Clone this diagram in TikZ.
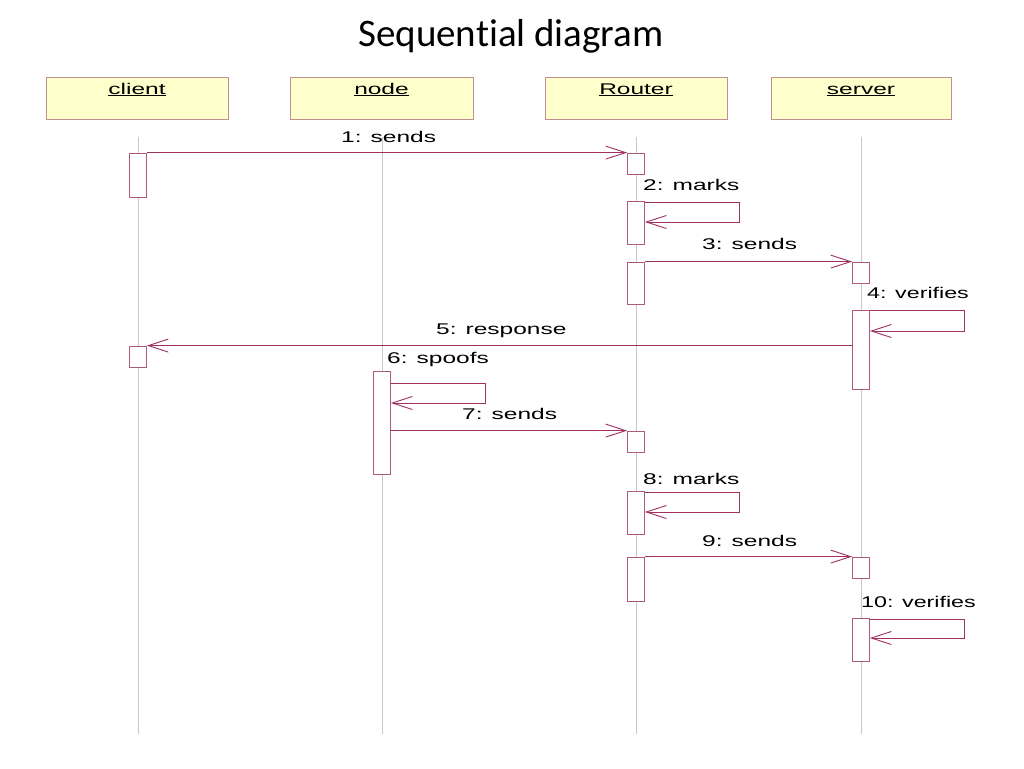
\documentclass[tikz,border=0pt]{standalone}
\usepackage{fontspec}
\setmainfont{Liberation Sans}
\newfontfamily\titlefont[Ligatures={NoCommon}]{Carlito}
\usetikzlibrary{arrows.meta}
\definecolor{hdrfill}{HTML}{FFFFCC}
\definecolor{hdrdraw}{HTML}{C09090}
\definecolor{actdraw}{HTML}{B05A7A}
\definecolor{msgcol}{HTML}{A0305F}
\definecolor{lifecol}{HTML}{C8C8C8}
\newcommand\wtxt[1]{\scalebox{1.58}[1]{#1}}
\tikzset{
  hdr/.style={draw=hdrdraw, fill=hdrfill, line width=0.8pt, minimum width=182pt,
    inner xsep=0pt, inner ysep=3pt, text height=14pt, text depth=22pt,
    font=\fontsize{15.5}{18}\selectfont},
  act/.style={draw=actdraw, fill=white, line width=0.8pt, minimum width=17pt, inner sep=0pt},
  life/.style={draw=lifecol, line width=0.7pt},
  msg/.style={draw=msgcol, line width=0.8pt, -{Straight Barb[length=20pt,width=13pt,line width=0.9pt]}},
  lbl/.style={anchor=base west, inner sep=0pt, font=\fontsize{15.5}{18}\selectfont},
}
\begin{document}
\begin{tikzpicture}[x=1pt, y=-1pt]
\useasboundingbox[fill=white] (0,0) rectangle (1024,768);
% title
\node[anchor=base, inner sep=0pt, font=\titlefont\fontsize{39}{44}\selectfont] (title) at (511,46) {Sequential diagram};
% headers
\node[hdr] (client) at (137,98) {\wtxt{\underline{client}}};
\node[hdr, minimum width=183pt] (node) at (381.5,98) {\wtxt{\underline{node}}};
\node[hdr] (router) at (636,98) {\wtxt{\underline{Router}}};
\node[hdr, minimum width=180pt] (server) at (861,98) {\wtxt{\underline{server}}};
% lifelines
\coordinate (cT) at (138,137); \coordinate (cB) at (138,734);
\coordinate (nT) at (382,137); \coordinate (nB) at (382,734);
\coordinate (rT) at (636,137); \coordinate (rB) at (636,734);
\coordinate (sT) at (861,137); \coordinate (sB) at (861,734);
\draw[life] (cT) -- (cB);
\draw[life] (nT) -- (nB);
\draw[life] (rT) -- (rB);
\draw[life] (sT) -- (sB);
% activations
\node[act, minimum height=44pt] (ca1) at (138,175) {};
\node[act, minimum height=21pt] (ca2) at (138,356.5) {};
\node[act, minimum height=103pt] (na1) at (382,422.5) {};
\node[act, minimum height=21pt] (ra1) at (636,163.5) {};
\node[act, minimum height=43pt] (ra2) at (636,222.5) {};
\node[act, minimum height=42pt] (ra3) at (636,283) {};
\node[act, minimum height=21pt] (ra4) at (636,441.5) {};
\node[act, minimum height=43pt] (ra5) at (636,512.5) {};
\node[act, minimum height=44pt] (ra6) at (636,579) {};
\node[act, minimum height=21pt] (sa1) at (861,272.5) {};
\node[act, minimum height=79pt] (sa2) at (861,349.5) {};
\node[act, minimum height=21pt] (sa3) at (861,567.5) {};
\node[act, minimum height=43pt] (sa4) at (861,639.5) {};
% loop corner coordinates
\coordinate (l2a) at (739,202); \coordinate (l2b) at (739,222);
\coordinate (l4a) at (964,310); \coordinate (l4b) at (964,331);
\coordinate (l6a) at (485,383); \coordinate (l6b) at (485,403);
\coordinate (l8a) at (739,492); \coordinate (l8b) at (739,512);
\coordinate (l10a) at (964,619); \coordinate (l10b) at (964,638);
% messages
\draw[msg] (ca1.north east) -- (ra1.north west);
\draw[msg] (ra2.east |- l2a) -- (l2a) -- (l2b) -- (ra2.east |- l2b);
\draw[msg] (ra3.north east) -- (sa1.north west);
\draw[msg] (sa2.east |- l4a) -- (l4a) -- (l4b) -- (sa2.east |- l4b);
\draw[msg] (sa2.west |- ca2.north) -- (ca2.north east);
\draw[msg] (na1.east |- l6a) -- (l6a) -- (l6b) -- (na1.east |- l6b);
\draw[msg] (na1.east |- ra4.north) -- (ra4.north west);
\draw[msg] (ra5.east |- l8a) -- (l8a) -- (l8b) -- (ra5.east |- l8b);
\draw[msg] (ra6.north east) -- (sa3.north west);
\draw[msg] (sa4.east |- l10a) -- (l10a) -- (l10b) -- (sa4.east |- l10b);
% labels
\node[lbl] (m1) at (341,142) {\wtxt{1: sends}};
\node[lbl] (m2) at (643,190.5) {\wtxt{2: marks}};
\node[lbl] (m3) at (702,249.5) {\wtxt{3: sends}};
\node[lbl] (m4) at (867,298.5) {\scalebox{1.5}[1]{4: verifies}};
\node[lbl] (m5) at (436,334.5) {\wtxt{5: response}};
\node[lbl] (m6) at (387,363.5) {\wtxt{6: spoofs}};
\node[lbl] (m7) at (462,419.5) {\wtxt{7: sends}};
\node[lbl] (m8) at (643,484.5) {\wtxt{8: marks}};
\node[lbl] (m9) at (702,546.5) {\wtxt{9: sends}};
\node[lbl] (m10) at (861,607.5) {\scalebox{1.5}[1]{10: verifies}};
\end{tikzpicture}
\end{document}
